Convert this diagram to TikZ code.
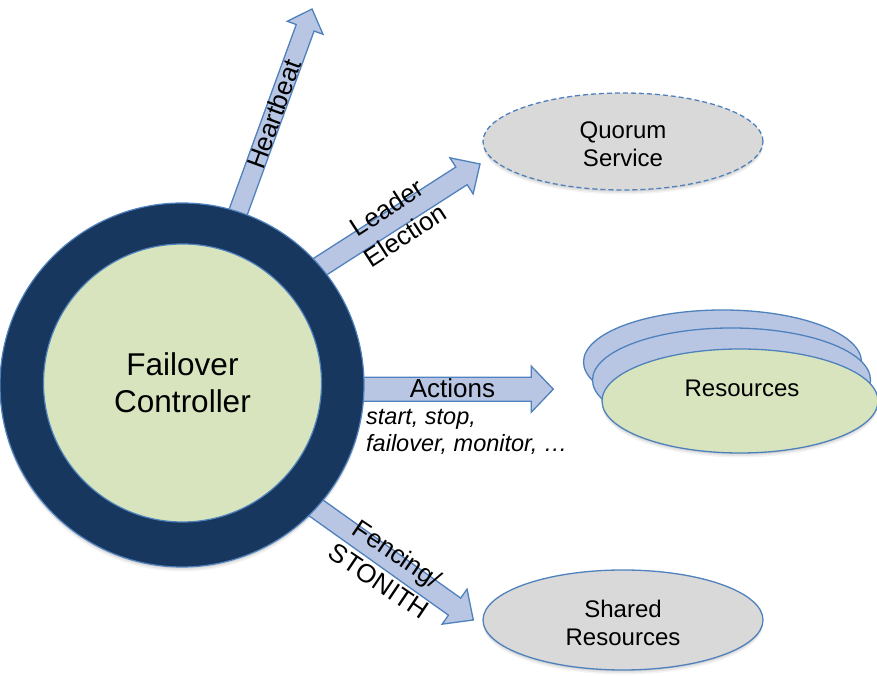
\documentclass[tikz,border=0pt]{standalone}
\usepackage{fontspec}
\setmainfont{Liberation Sans}
\usetikzlibrary{shapes.geometric,calc}

\definecolor{navy}{HTML}{17375E}
\definecolor{edgeblue}{HTML}{4F81BD}
\definecolor{arrowfill}{HTML}{B8C6E3}
\definecolor{palegreen}{HTML}{D7E4BD}
\definecolor{softgray}{HTML}{D9D9D9}

% block arrow from coordinate #1 to tip #2:
% #3 shaft half width, #4 head half width, #5 head length
\newcommand\blockarrow[5]{%
  \coordinate (#1h) at ($(#2)!#5!(#1)$);
  \filldraw[arrowbody]
    ($(#1)!#3!90:(#2)$) -- ($(#1h)!#3!90:(#2)$) -- ($(#1h)!#4!90:(#2)$)
    -- (#2)
    -- ($(#1h)!#4!-90:(#2)$) -- ($(#1h)!#3!-90:(#2)$) -- ($(#1)!#3!-90:(#2)$)
    -- cycle;}

\begin{document}
\begin{tikzpicture}[x=1pt,y=1pt,
  arrowbody/.style={fill=arrowfill, draw=edgeblue, line width=1.3pt, line join=miter},
  lbl/.style={inner sep=0pt, font=\fontsize{26}{33}\selectfont, align=center},
  txt/.style={inner sep=0pt, font=\fontsize{24}{28.5}\selectfont, align=center},
  oval/.style={ellipse, inner sep=0pt, draw=edgeblue, line width=1.3pt},
  disc/.style={circle, inner sep=0pt, draw=edgeblue, line width=1.2pt},
  shade/.style={fill=black, opacity=#1},
]
\useasboundingbox (0,0) rectangle (877,676);

% soft drop shadows
\foreach \d/\o in {1.5/0.08, 3/0.06, 4.5/0.045}{
  \fill[shade=\o] (182,291-\d) circle (182pt);
  \fill[shade=\o] (623,534.5-\d) ellipse [x radius=140pt, y radius=48.5pt];
  \fill[shade=\o] (623,56-\d) ellipse [x radius=140pt, y radius=50pt];
  \fill[shade=\o] (740,275-\d) ellipse [x radius=138pt, y radius=52pt];
}

% arrow end points
\coordinate (hbS) at (234,452.4);   \coordinate (hbT) at (312,667);
\coordinate (leS) at (307.4,401.2); \coordinate (leT) at (480,512);
\coordinate (acS) at (345,286.8);   \coordinate (acT) at (553.3,286.8);
\coordinate (feS) at (306.9,174.6); \coordinate (feT) at (473.3,56);

\blockarrow{hbS}{hbT}{9.5pt}{19pt}{20pt}
\blockarrow{leS}{leT}{10.5pt}{21.5pt}{22pt}
\blockarrow{acS}{acT}{12pt}{23pt}{22pt}
\blockarrow{feS}{feT}{10.5pt}{21.5pt}{23pt}

% failover controller
\node[disc, minimum size=364pt, fill=navy] (ring) at (182,291) {};
\node[disc, minimum size=278pt, fill=palegreen] (core) at (182.5,293) {};
\node[inner sep=0pt, font=\fontsize{31.5}{37.7}\selectfont, align=center] (fcT) at (182.5,293.4) {Failover\\Controller};

% quorum service
\node[oval, dashed, dash pattern=on 5pt off 3pt, fill=softgray, minimum width=280pt, minimum height=97pt] (quorum) at (623,534.5) {};
\node[txt] (quorumT) at (623,531.6) {Quorum\\Service};

% resources stack
\node[oval, fill=arrowfill, minimum width=278pt, minimum height=104pt] (resB) at (722.5,314) {};
\node[oval, fill=arrowfill, minimum width=278pt, minimum height=104pt] (resM) at (731.5,296) {};
\node[oval, fill=palegreen, minimum width=276pt, minimum height=104pt] (resF) at (740,275) {};
\node[txt, anchor=base] (resT) at (742,279.3) {Resources};

% shared resources
\node[oval, fill=softgray, minimum width=280pt, minimum height=100pt] (shared) at (623,56) {};
\node[txt] (sharedT) at (623,53.1) {Shared\\Resources};

% arrow labels
\node[lbl, rotate=70] (hbL) at (274,562) {Heartbeat};
\node[lbl, rotate=33] (leL) at (395.8,454.7) {Leader\\Election};
\node[lbl, anchor=base] (acL) at (452.5,278) {Actions};
\node[inner sep=0pt, anchor=west, align=left, font=\fontsize{23.5}{26.7}\selectfont\itshape] (acD) at (366,244.1) {start, stop,\\failover, monitor, …};
\node[lbl, rotate=-34] (feL) at (388.3,108.7) {Fencing/\\STONITH};
\end{tikzpicture}
\end{document}
